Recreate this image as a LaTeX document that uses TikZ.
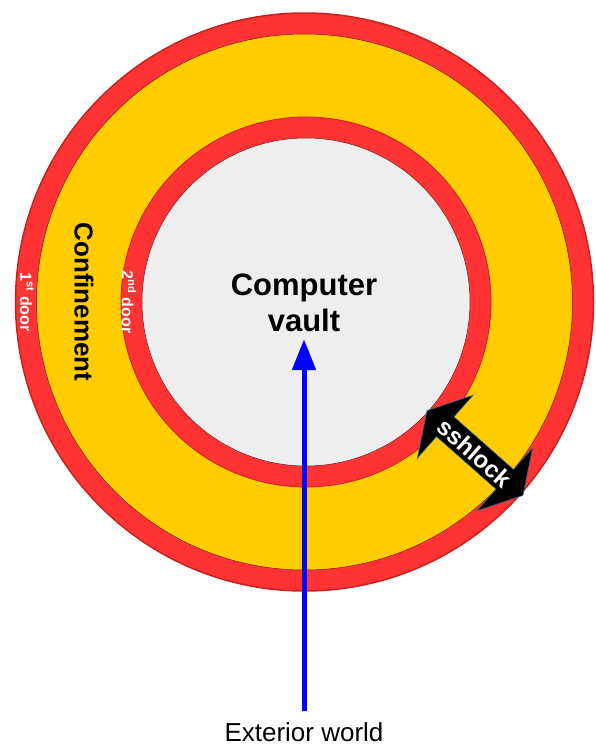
\documentclass[tikz,border=0pt]{standalone}
\usepackage{fontspec}
\setmainfont{Liberation Sans}
\usetikzlibrary{positioning,arrows.meta,shapes.arrows}

\definecolor{ringred}{HTML}{FF3333}
\definecolor{ringedge}{HTML}{C9211E}
\definecolor{zoneyellow}{HTML}{FFCC00}
\definecolor{vaultgray}{HTML}{EEEEEE}
\definecolor{lockedge}{HTML}{3465A4}

\begin{document}
\begin{tikzpicture}[x=1pt, y=-1pt,
    ringnode/.style={circle, inner sep=0pt, fill=ringred, draw=ringedge},
    zonenode/.style={circle, inner sep=0pt, draw=ringedge!60!black, line width=0.5pt},
    doorlabel/.style={text=white, rotate=-90, inner sep=0pt, font=\bfseries\fontsize{16}{19}\selectfont},
    flow/.style={-{Triangle[length=31pt, width=23pt]}, draw=blue, fill=blue, line width=5pt}
    ]
        \useasboundingbox (0,0) rectangle (596,745);

        %Rings
        \node[ringnode, line width=1.5pt, minimum size=578pt]
            (door1) at (304.5,302) {};
        \node[zonenode, fill=zoneyellow, minimum size=536pt]
            (confine) at (door1.center) {};
        \node[ringnode, line width=0.8pt, minimum size=370pt]
            (door2) at (306,302) {};
        \node[zonenode, fill=vaultgray, minimum size=328pt]
            (inside) at (door2.center) {};

        %Labels
        \node[doorlabel]
            (door1text) at (27,302) {1\textsuperscript{st} door};
        \node[doorlabel]
            (door2text) at (129,302) {2\textsuperscript{nd} door};
        \node[rotate=-90, inner sep=0pt, font=\bfseries\fontsize{26}{30}\selectfont]
            (confinetext) at (84,302) {Confinement};
        \node[align=center, inner sep=0pt, font=\bfseries\fontsize{31}{36}\selectfont]
            (vault) at (304,303) {Computer\\vault};
        \node[inner sep=0pt, font=\fontsize{26}{30}\selectfont]
            (exterior) at (304,732) {Exterior world};

        %Lock
        \node[double arrow, rotate=-41.5, fill=black, draw=lockedge, line width=0.6pt,
              minimum height=128pt, minimum width=84pt, inner sep=0pt,
              double arrow head extend=20pt, double arrow tip angle=120,
              text=white, font=\bfseries\fontsize{24}{28}\selectfont]
            (sshlock) at (475,453) {sshlock};

        %Lines
        \draw[flow, shorten >=7pt]
            ([yshift=11pt]exterior.north) -- (vault.south);
    \end{tikzpicture}
\end{document}
